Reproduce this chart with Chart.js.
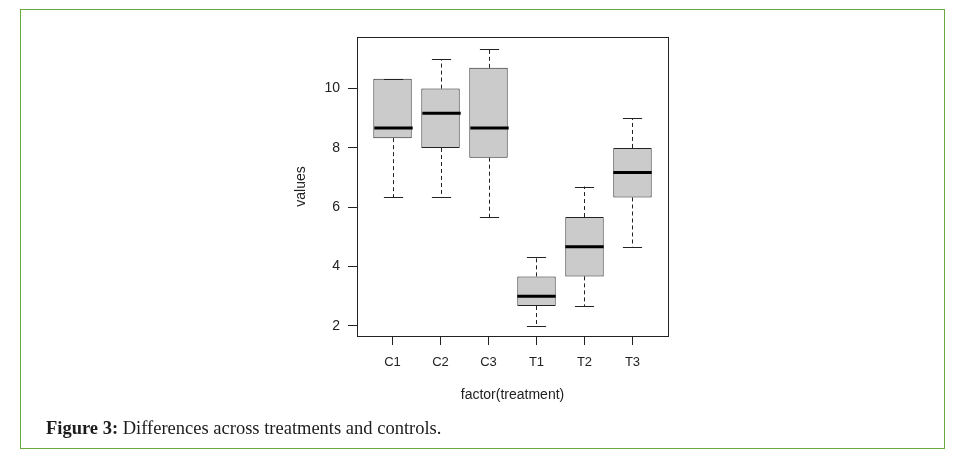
<!DOCTYPE html>
<html>
<head>
<meta charset="utf-8">
<script src="https://cdn.jsdelivr.net/npm/chart.js@4.4.1/dist/chart.umd.min.js"></script>
<style>
  html, body { margin: 0; padding: 0; background: #fff; }
  #wrap { position: relative; width: 967px; height: 457px; overflow: hidden; }
  #frame { position: absolute; left: 20px; top: 9px; width: 925px; height: 440px;
           box-sizing: border-box; border: 1px solid #68aa3e; }
  #chart { position: absolute; left: 0; top: 0; }
  #caption { position: absolute; left: 46px; top: 419px; line-height: 18px;
             font-family: "Liberation Serif", serif; font-size: 18.5px; color: #1c1c1c; white-space: nowrap; }
</style>
</head>
<body>
<div id="wrap">
  <div id="frame"></div>
  <canvas id="chart" width="967" height="457"></canvas>
  <div id="caption"><b>Figure 3:</b> Differences across treatments and controls.</div>
</div>
<script>
// Grupos do boxplot
const categories = ['C1', 'C2', 'C3', 'T1', 'T2', 'T3'];
// Estatísticas
const whiskerLow  = [6.33, 6.33, 5.67, 2.00, 2.67, 4.67];
const quartile1   = [8.33, 8.00, 7.67, 2.67, 3.67, 6.33];
const medians     = [8.67, 9.17, 8.67, 3.00, 4.67, 7.17];
const quartile3   = [10.33, 10.00, 10.70, 3.67, 5.67, 8.00];
const whiskerHigh = [10.33, 11.00, 11.35, 4.33, 6.70, 9.00];
const yTicks = [2, 4, 6, 8, 10];

const ink = '#222';

// Mediana, bigodes tracejados e moldura do gráfico
const boxExtras = {
  id: 'boxExtras',
  afterDatasetsDraw(chart) {
    const ctx = chart.ctx;
    const x = chart.scales.x, y = chart.scales.y;
    const meta = chart.getDatasetMeta(0);
    ctx.save();
    ctx.strokeStyle = ink;
    categories.forEach((c, i) => {
      const cx = Math.round(x.getPixelForValue(i + 1)) + 0.5;
      const half = meta.data[i].width / 2;
      const cap = half / 2;
      // bigodes
      ctx.lineWidth = 1;
      ctx.setLineDash([4, 3]);
      ctx.beginPath();
      ctx.moveTo(cx, y.getPixelForValue(quartile3[i]));
      ctx.lineTo(cx, y.getPixelForValue(whiskerHigh[i]));
      ctx.moveTo(cx, y.getPixelForValue(quartile1[i]));
      ctx.lineTo(cx, y.getPixelForValue(whiskerLow[i]));
      ctx.stroke();
      ctx.setLineDash([]);
      ctx.beginPath();
      [whiskerHigh[i], whiskerLow[i]].forEach(v => {
        const py = Math.round(y.getPixelForValue(v)) + 0.5;
        ctx.moveTo(cx - cap, py);
        ctx.lineTo(cx + cap, py);
      });
      ctx.stroke();
      // mediana
      ctx.lineWidth = 3;
      ctx.strokeStyle = '#000';
      ctx.beginPath();
      const my = y.getPixelForValue(medians[i]);
      ctx.moveTo(cx - half, my);
      ctx.lineTo(cx + half, my);
      ctx.stroke();
      ctx.strokeStyle = ink;
    });
    const a = chart.chartArea;
    ctx.lineWidth = 1;
    ctx.strokeRect(Math.round(a.left) + 0.5, Math.round(a.top) + 0.5,
                   Math.round(a.right - a.left), Math.round(a.bottom - a.top));
    ctx.restore();
  }
};

const ctx = document.getElementById('chart').getContext('2d');
new Chart(ctx, {
  type: 'bar',
  data: {
    datasets: [{
      data: categories.map((c, i) => ({ x: i + 1, y: [quartile1[i], quartile3[i]] })),
      backgroundColor: '#cbcbcb',
      borderColor: ink,
      borderWidth: 1,
      borderSkipped: false,
      barPercentage: 0.8,
      categoryPercentage: 1
    }]
  },
  options: {
    responsive: false,
    animation: false,
    layout: { padding: { left: 289, top: 37, right: 299, bottom: 49 } },
    plugins: { legend: { display: false }, tooltip: { enabled: false } },
    scales: {
      x: {
        type: 'linear',
        min: 0.26,
        max: 6.74,
        offset: false,
        afterBuildTicks: s => { s.ticks = categories.map((c, i) => ({ value: i + 1 })); },
        afterFit: s => { s.height = 72; },
        border: { display: false },
        grid: { offset: false, drawOnChartArea: false, drawTicks: true, tickLength: 9, color: ink },
        ticks: {
          autoSkip: false,
          maxRotation: 0,
          padding: 10,
          color: '#222',
          font: { family: 'Liberation Sans', size: 13 },
          callback: v => categories[v - 1]
        },
        title: {
          display: true,
          text: 'factor(treatment)',
          color: '#222',
          font: { family: 'Liberation Sans', size: 14 }
        }
      },
      y: {
        min: 1.66,
        max: 11.74,
        afterBuildTicks: s => { s.ticks = yTicks.map(v => ({ value: v })); },
        afterFit: s => { s.width = 68; },
        border: { display: false },
        grid: { drawOnChartArea: false, drawTicks: true, tickLength: 9, color: ink },
        ticks: {
          padding: 8,
          color: '#222',
          font: { family: 'Liberation Sans', size: 14 }
        },
        title: {
          display: true,
          text: 'values',
          color: '#222',
          font: { family: 'Liberation Sans', size: 14 }
        }
      }
    }
  },
  plugins: [boxExtras]
});
</script>
</body>
</html>
